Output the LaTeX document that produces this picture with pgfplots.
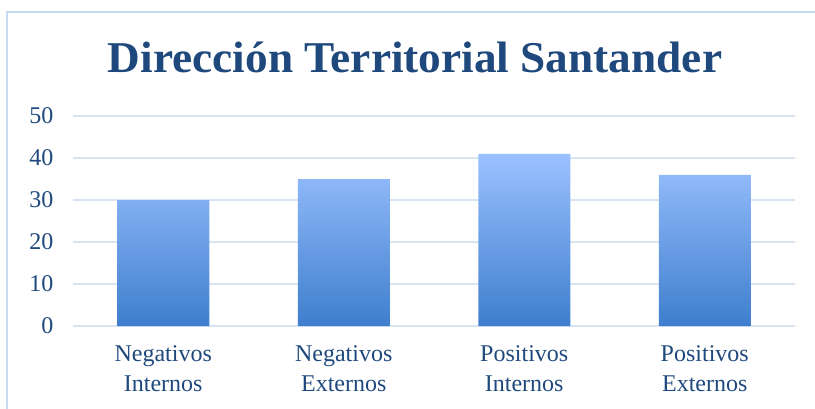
\documentclass[border=0pt]{standalone}
\usepackage{fontspec}
\setmainfont{Liberation Serif}
\usepackage{pgfplots}
\pgfplotsset{compat=1.18}
\definecolor{txt}{RGB}{31,73,125}
\definecolor{gridc}{RGB}{217,228,243}
\definecolor{framec}{RGB}{200,218,240}
\definecolor{bartop}{RGB}{155,193,255}
\definecolor{barbot}{RGB}{62,126,205}
\begin{document}
\begin{tikzpicture}[x=1pt,y=1pt]
\useasboundingbox (0,0) rectangle (815,408);
\draw[framec, line width=1.3pt] (7,-20) -- (7,396) -- (840,396);
\node[anchor=base, text=txt, font=\fontsize{44}{48}\selectfont\bfseries] at (415,335) {\scalebox{1.03}[1]{Dirección Territorial Santander}};
\begin{axis}[
  at={(73pt,82pt)}, anchor=south west,
  scale only axis, width=722pt, height=210pt,
  xmin=-0.5, xmax=3.5, ymin=0, ymax=50,
  ytick={0,10,20,30,40,50},
  xtick={0,1,2,3},
  xticklabels={{Negativos\\Internos},{Negativos\\Externos},{Positivos\\Internos},{Positivos\\Externos}},
  xticklabel style={align=center, text=txt, font=\fontsize{24}{30}\selectfont, yshift=-16pt},
  yticklabel style={text=txt, font=\fontsize{24}{26}\selectfont, xshift=-16pt},
  /pgf/number format/assume math mode=true,
  major tick length=0pt,
  axis line style={draw=none},
  ymajorgrids, xmajorgrids=false, major grid style={draw=gridc, line width=1.8pt},
  ybar, bar width=92pt,
  clip=false,
]
\addplot[draw=none, top color=bartop, bottom color=barbot] coordinates {(0,30) (1,35) (2,41) (3,36)};
\end{axis}
\end{tikzpicture}
\end{document}
